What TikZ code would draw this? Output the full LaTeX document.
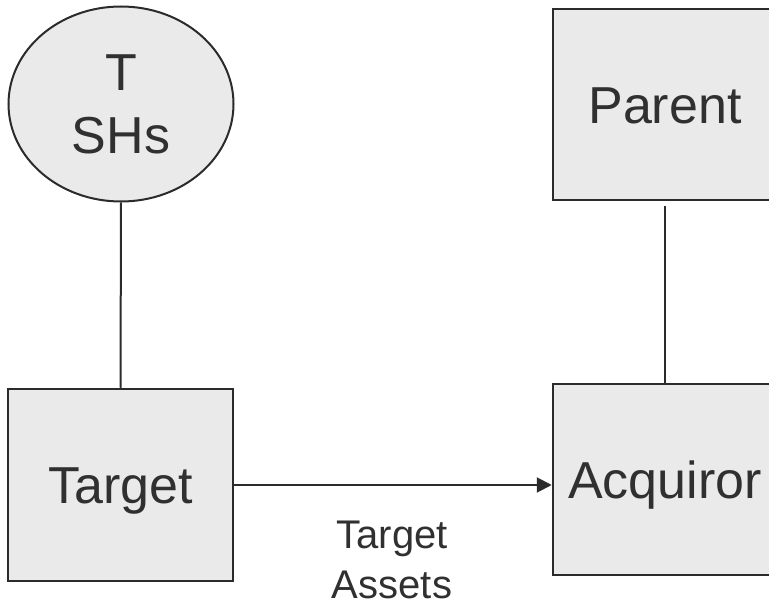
\documentclass[tikz,border=0pt]{standalone}
\usepackage{fontspec}
\setmainfont{Liberation Sans}
\usetikzlibrary{shapes.geometric,arrows.meta}

\definecolor{boxfill}{HTML}{EAEAEA}
\definecolor{ink}{HTML}{2B2B2B}
\definecolor{txt}{HTML}{303030}

\tikzset{
  entity/.style={draw=ink, line width=2.5pt, fill=boxfill, text=txt,
    font=\fontsize{52}{63}\selectfont, inner sep=0pt,
    minimum width=224pt, minimum height=191pt,
    text height=37.2pt, text depth=0pt},
  holders/.style={ellipse, draw=ink, line width=2pt, fill=boxfill, text=txt,
    font=\fontsize{52}{63}\selectfont, align=center, inner sep=0pt,
    minimum width=225pt, minimum height=195pt},
  link/.style={draw=ink, line width=2pt},
  flowlabel/.style={text=txt, font=\fontsize{40}{50}\selectfont,
    align=center, inner sep=0pt}
}

\begin{document}
\begin{tikzpicture}[x=1pt, y=-1pt]
  \useasboundingbox (0,0) rectangle (769,604);
  \clip (0,0) rectangle (769,604);

  % shareholders of the target and the two companies
  \node[holders] (tsh) at (121,104) {T\\SHs};
  \node[entity, minimum width=225pt, minimum height=192pt] (tgt) at (120.5,485) {Target};
  \node[entity] (par) at (665,104.5) {Parent};
  \node[entity] (acq) at (665,479.5) {Acquiror};

  % ownership lines
  \draw[link] (tsh.south) -- (tgt.north);
  \draw[link, shorten <=5pt] (par.south) -- (acq.north);

  % transfer of the assets
  \draw[link, -{Triangle[length=15pt,width=15pt]}] (tgt.east) -- (acq.west |- tgt.east);
  \node[flowlabel] (assets) at (392,560) {Target\\Assets};
\end{tikzpicture}
\end{document}
